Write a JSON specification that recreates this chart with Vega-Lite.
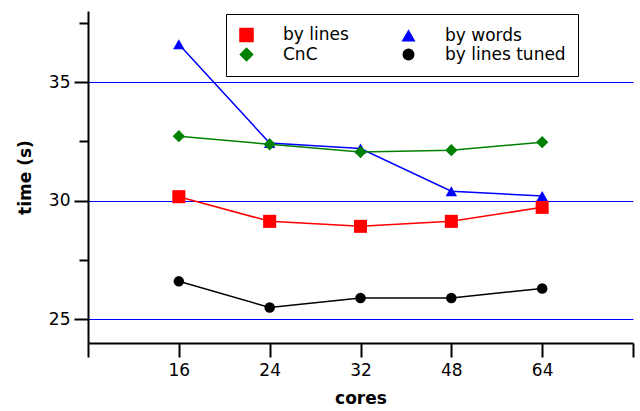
{
  "$schema": "https://vega.github.io/schema/vega-lite/v6.json",
  "width": 545,
  "height": 332,
  "autosize": {"type": "none"},
  "padding": {"left": 88, "top": 11, "right": 7, "bottom": 68},
  "config": {"view": {"stroke": null}, "font": "DejaVu Sans"},
  "data": {"values": [
    {"pos": 1, "cores": "16", "series": "by lines", "time": 30.17},
    {"pos": 2, "cores": "24", "series": "by lines", "time": 29.13},
    {"pos": 3, "cores": "32", "series": "by lines", "time": 28.92},
    {"pos": 4, "cores": "48", "series": "by lines", "time": 29.13},
    {"pos": 5, "cores": "64", "series": "by lines", "time": 29.72},
    {"pos": 1, "cores": "16", "series": "by words", "time": 36.6},
    {"pos": 2, "cores": "24", "series": "by words", "time": 32.43},
    {"pos": 3, "cores": "32", "series": "by words", "time": 32.2},
    {"pos": 4, "cores": "48", "series": "by words", "time": 30.4},
    {"pos": 5, "cores": "64", "series": "by words", "time": 30.2},
    {"pos": 1, "cores": "16", "series": "CnC", "time": 32.72},
    {"pos": 2, "cores": "24", "series": "CnC", "time": 32.38},
    {"pos": 3, "cores": "32", "series": "CnC", "time": 32.05},
    {"pos": 4, "cores": "48", "series": "CnC", "time": 32.13},
    {"pos": 5, "cores": "64", "series": "CnC", "time": 32.47},
    {"pos": 1, "cores": "16", "series": "by lines tuned", "time": 26.6},
    {"pos": 2, "cores": "24", "series": "by lines tuned", "time": 25.5},
    {"pos": 3, "cores": "32", "series": "by lines tuned", "time": 25.9},
    {"pos": 4, "cores": "48", "series": "by lines tuned", "time": 25.9},
    {"pos": 5, "cores": "64", "series": "by lines tuned", "time": 26.3}
  ]},
  "encoding": {
    "x": {
      "field": "pos", "type": "quantitative",
      "scale": {"domain": [0, 6], "nice": false, "zero": false},
      "axis": {
        "values": [0, 1, 2, 3, 4, 5, 6],
        "labelExpr": "['', '16', '24', '32', '48', '64', ''][datum.value]",
        "labelOverlap": false, "labelBound": false, "labelFlush": false,
        "grid": false,
        "tickSize": 14, "tickWidth": 2, "tickColor": "black",
        "domainColor": "black", "domainWidth": 2,
        "labelFontSize": 17, "labelColor": "black", "labelPadding": 5,
        "title": "cores", "titleFontSize": 17, "titleFontWeight": "bold", "titleColor": "black", "titlePadding": 12
      }
    },
    "y": {
      "field": "time", "type": "quantitative",
      "scale": {"domain": [24, 38], "nice": false, "zero": false},
      "axis": {
        "values": [25, 27.5, 30, 32.5, 35, 37.5],
        "labelExpr": "datum.value % 5 === 0 ? datum.label : ''",
        "tickSize": {"condition": {"test": "datum.value % 5 === 0", "value": 14}, "value": 9},
        "tickWidth": 2, "tickColor": "black",
        "grid": true,
        "gridColor": "#0000ff",
        "gridWidth": 1,
        "gridOpacity": {"condition": {"test": "datum.value % 5 === 0", "value": 1}, "value": 0},
        "domainColor": "black", "domainWidth": 2,
        "labelFontSize": 17, "labelColor": "black", "labelPadding": 4,
        "title": "time (s)", "titleFontSize": 17, "titleFontWeight": "bold", "titleColor": "black", "titlePadding": 14
      }
    },
    "color": {
      "field": "series", "type": "nominal",
      "scale": {"domain": ["by lines", "CnC", "by words", "by lines tuned"], "range": ["#ff0000", "#008000", "#0000ff", "#000000"]},
      "legend": {
        "orient": "none", "legendX": 138, "legendY": 3,
        "columns": 2, "title": null,
        "strokeColor": "black", "fillColor": "white",
        "padding": 12, "rowPadding": 0, "columnPadding": 50,
        "labelFontSize": 17, "labelColor": "black", "labelOffset": 28
      }
    }
  },
  "layer": [
    {"mark": {"type": "line", "strokeWidth": 1.5}},
    {
      "mark": {"type": "point", "filled": true, "opacity": 1},
      "encoding": {
        "shape": {"field": "series", "type": "nominal", "scale": {"domain": ["by lines", "CnC", "by words", "by lines tuned"], "range": ["square", "diamond", "triangle-up", "circle"]}, "legend": null},
        "size": {"field": "series", "type": "nominal", "scale": {"domain": ["by lines", "CnC", "by words", "by lines tuned"], "range": [170, 110, 130, 144]}, "legend": null}
      }
    }
  ]
}
